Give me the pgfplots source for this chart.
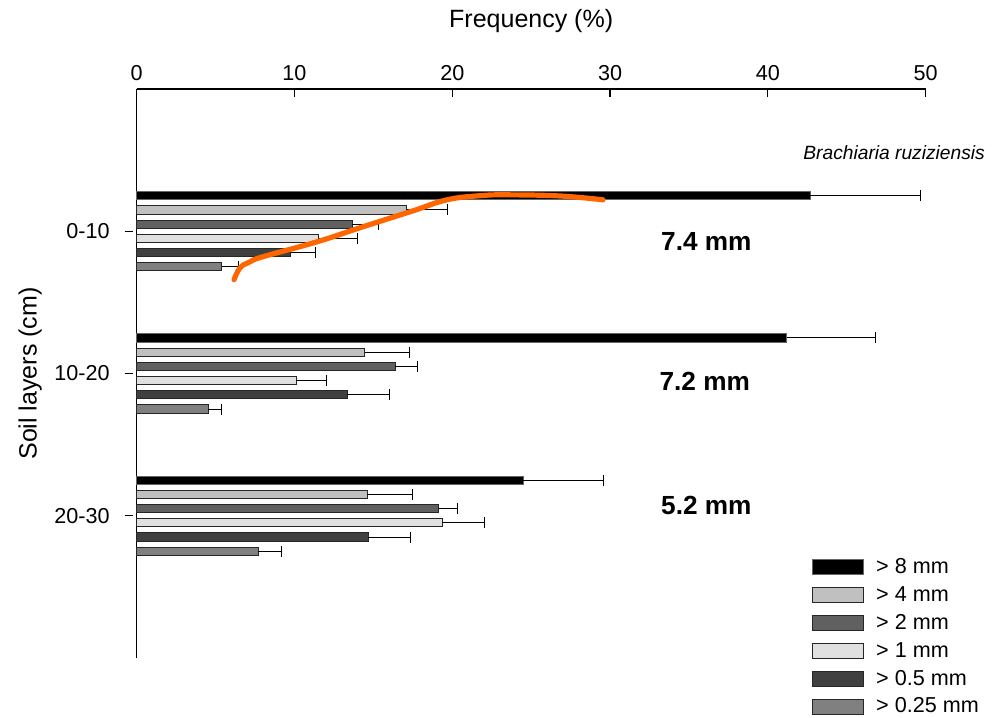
\documentclass[border=0pt]{standalone}
\usepackage{fontspec}
\setmainfont{Liberation Sans}
\usepackage{pgfplots}
\pgfplotsset{compat=1.18}

\definecolor{cA}{HTML}{000000}% > 8 mm
\definecolor{cB}{HTML}{C0C0C0}% > 4 mm
\definecolor{cC}{HTML}{606060}% > 2 mm
\definecolor{cD}{HTML}{E0E0E0}% > 1 mm
\definecolor{cE}{HTML}{404040}% > 0.5 mm
\definecolor{cF}{HTML}{808080}% > 0.25 mm
\definecolor{curve}{HTML}{FF6600}

\newcommand{\fs}[1]{\fontsize{#1}{1.2\dimexpr#1pt\relax}\selectfont}

\begin{document}
\begin{tikzpicture}
\useasboundingbox (-68.35pt,-30pt) rectangle (430.65pt,329pt);
\begin{axis}[
  at={(0,0)}, anchor=south west,
  scale only axis, width=394.5pt, height=284.5pt,
  xmin=0, xmax=50, ymin=0, ymax=4, y dir=reverse,
  axis x line=top, axis y line=left,
  axis line style={-, line width=0.8pt},
  xtick={0,10,20,30,40,50},
  ytick={1,2,3}, yticklabels={0-10,10-20,20-30},
  tick align=inside, major tick length=4pt,
  tick style={black, line width=0.6pt},
  y tick style={xshift=-2pt},
  tick label style={font=\fs{10.8}},
  /pgf/number format/assume math mode=true,
  xticklabel style={inner sep=0pt, anchor=south, yshift=3.9pt},
  yticklabel style={inner sep=0pt, anchor=east, xshift=-9.3pt},
  xlabel={Frequency (\%)},
  xlabel style={at={(axis description cs:0.5,1)}, anchor=center, inner sep=0pt, yshift=33.9pt, font=\fs{12.5}},
  ylabel={Soil layers (cm)},
  ylabel style={at={(axis description cs:0,0.5)}, anchor=center, inner sep=0pt, yshift=53.3pt, font=\fs{12.5}},
  xbar, bar width=0.058, bar shift=0pt,
  clip=false,
  legend style={draw=none, fill=none, at={(axis description cs:0.856,0.1845)}, anchor=north west,
    inner sep=0pt, row sep=0pt, column sep=5.85pt, font=\fs{10.8},
    nodes={inner sep=0pt, minimum height=13.95pt}},
  legend cell align=left,
  legend image code/.code={\draw[#1, line width=0.5pt] (0pt,-3.75pt) rectangle (25.5pt,3.75pt);},
  every axis plot/.append style={draw=black!85, line width=0.5pt},
  error bars/error mark=|,
  error bars/error bar style={black, line width=0.5pt},
  error bars/error mark options={black, line width=0.5pt, mark size=2.75pt},
]
% > 8 mm
\addplot[fill=cA, draw=black!60, error bars/.cd, x dir=plus, x explicit]
  coordinates {(42.7,0.75) +- (7.0,0) (41.2,1.75) +- (5.6,0) (24.5,2.75) +- (5.1,0)};
% > 4 mm
\addplot[fill=cB, error bars/.cd, x dir=plus, x explicit]
  coordinates {(17.1,0.85) +- (2.6,0) (14.45,1.85) +- (2.85,0) (14.6,2.85) +- (2.85,0)};
% > 2 mm
\addplot[fill=cC, error bars/.cd, x dir=plus, x explicit]
  coordinates {(13.65,0.95) +- (1.7,0) (16.4,1.95) +- (1.4,0) (19.15,2.95) +- (1.15,0)};
% > 1 mm
\addplot[fill=cD, error bars/.cd, x dir=plus, x explicit]
  coordinates {(11.5,1.05) +- (2.5,0) (10.1,2.05) +- (1.95,0) (19.35,3.05) +- (2.7,0)};
% > 0.5 mm
\addplot[fill=cE, error bars/.cd, x dir=plus, x explicit]
  coordinates {(9.75,1.15) +- (1.6,0) (13.35,2.15) +- (2.65,0) (14.7,3.15) +- (2.65,0)};
% > 0.25 mm
\addplot[fill=cF, error bars/.cd, x dir=plus, x explicit]
  coordinates {(5.4,1.25) +- (1.05,0) (4.55,2.25) +- (0.85,0) (7.7,3.25) +- (1.5,0)};
\legend{> 8 mm, > 4 mm, > 2 mm, > 1 mm, > 0.5 mm, > 0.25 mm}

% hand-drawn trend across the 0-10 layer
\addplot[sharp plot, smooth, tension=0.7, draw=curve, line width=2.6pt, line cap=round, forget plot]
  coordinates {(6.17,1.341) (6.55,1.257) (7.18,1.215) (8.00,1.179) (11.43,1.074) (14.35,0.968)
    (17.52,0.856) (19.66,0.779) (21.76,0.750) (23.53,0.744) (26.82,0.752) (29.55,0.779)};

\node[font=\fs{13.1}\bfseries, inner sep=0pt] at (axis cs:36.1,1.07) {7.4 mm};
\node[font=\fs{13.1}\bfseries, inner sep=0pt] at (axis cs:36.0,2.053) {7.2 mm};
\node[font=\fs{13.1}\bfseries, inner sep=0pt] at (axis cs:36.1,2.93) {5.2 mm};
\node[font=\fs{9.6}\itshape, inner sep=0pt] at (axis cs:48.0,0.446) {Brachiaria ruziziensis};
\end{axis}
\end{tikzpicture}
\end{document}
